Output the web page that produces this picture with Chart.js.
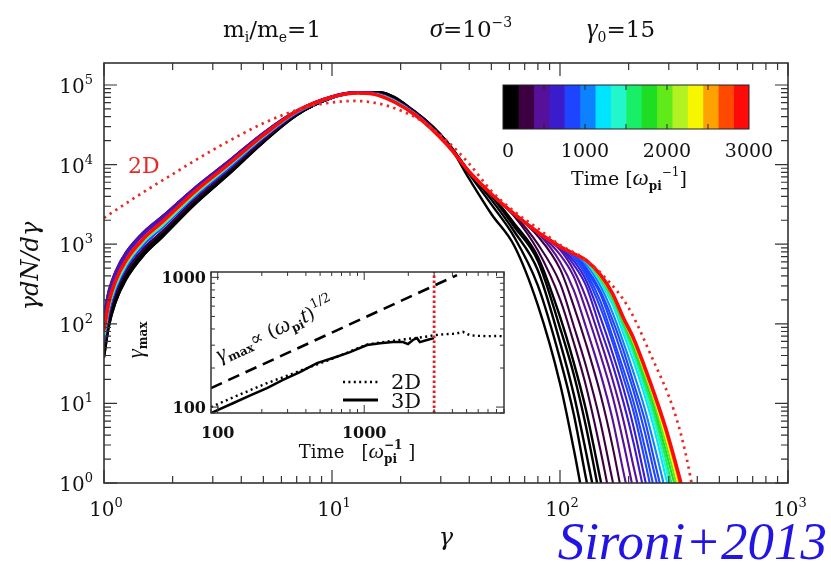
<!DOCTYPE html>
<html>
<head>
<meta charset="utf-8">
<script src="https://cdn.jsdelivr.net/npm/chart.js@4.4.1/dist/chart.umd.min.js"></script>
<style>
html, body { margin: 0; padding: 0; background: #fff; }
#wrap { position: relative; width: 831px; height: 565px; }
canvas { position: absolute; left: 0; top: 0; }
</style>
</head>
<body>
<div id="wrap">
<canvas id="main" width="831" height="565"></canvas>
<canvas id="inset" width="831" height="565"></canvas>
<canvas id="cbar" width="831" height="565"></canvas>
</div>
<script>
// ---- main panel data: log10(gamma dN/dgamma) ----
var gamLow = [1.0, 1.05, 1.12, 1.25, 1.5, 1.8, 2.5, 3.5, 5, 7, 10, 13, 16, 23, 32];
var gamTail = [40, 50, 63, 80, 100, 115, 130, 150, 170, 190, 210, 235, 260, 290, 320, 350];

// low energy part, the curves form a band (groups of curves)
var lowK0 = [1.58, 1.97, 2.26, 2.56, 2.87, 3.09, 3.50, 3.87, 4.28, 4.62, 4.84, 4.91, 4.91, 4.67, 4.28];
var lowK1 = [1.66, 2.04, 2.32, 2.61, 2.91, 3.13, 3.54, 3.90, 4.30, 4.63, 4.84, 4.91, 4.90, 4.66, 4.28];
var lowD  = [1.74, 2.11, 2.38, 2.66, 2.95, 3.16, 3.56, 3.92, 4.31, 4.64, 4.85, 4.91, 4.89, 4.66, 4.27];
var lowP1 = [2.12, 2.42, 2.65, 2.90, 3.16, 3.35, 3.71, 4.04, 4.40, 4.68, 4.86, 4.91, 4.89, 4.65, 4.26];
var lowP2 = [2.04, 2.36, 2.60, 2.86, 3.13, 3.32, 3.69, 4.02, 4.38, 4.67, 4.85, 4.91, 4.88, 4.64, 4.26];
var lowB1 = [1.80, 2.16, 2.43, 2.71, 3.00, 3.21, 3.60, 3.95, 4.34, 4.65, 4.84, 4.90, 4.88, 4.64, 4.25];
var lowB2 = [1.84, 2.20, 2.46, 2.74, 3.03, 3.23, 3.62, 3.97, 4.35, 4.66, 4.85, 4.90, 4.88, 4.64, 4.25];
var lowL  = [1.88, 2.23, 2.50, 2.77, 3.06, 3.26, 3.64, 3.99, 4.37, 4.67, 4.85, 4.90, 4.87, 4.63, 4.25];
var lowR  = [1.92, 2.27, 2.53, 2.80, 3.08, 3.28, 3.66, 4.00, 4.37, 4.67, 4.85, 4.90, 4.87, 4.63, 4.25];
var lowGroups = { k0: lowK0, k1: lowK1, d: lowD, p1: lowP1, p2: lowP2, b1: lowB1, b2: lowB2, l: lowL, r: lowR };

// time of each 3D spectrum [1/omega_pi] and its low-energy group
var times3D = [0, 40, 80, 120, 160, 200, 260, 330, 400, 460, 520, 600, 680, 760, 800, 860, 920, 1000,
               1150, 1350, 1550, 1800, 2050, 2300, 2600, 3000];
var lowGroupOf = ['k0','k0','k1','k1','k1','d','d','d','p1','p1','p1','p2','p2','b1','b1','b1','b1',
                  'b2','b2','b2','l','l','l','l','l','r'];

// high energy tails (log10), starting at gamTail[0]
var tails3D = [
  [3.82, 3.38, 2.98, 2.23, 1.25, 0.42, -0.40],
  [3.88, 3.50, 3.09, 2.48, 1.56, 0.86, 0.06, -0.80],
  [3.90, 3.56, 3.16, 2.67, 1.77, 1.11, 0.39, -0.50],
  [3.91, 3.61, 3.22, 2.79, 1.95, 1.36, 0.71, -0.20],
  [3.91, 3.62, 3.26, 2.84, 2.09, 1.51, 0.92, 0.06, -0.70],
  [3.91, 3.63, 3.35, 2.92, 2.31, 1.76, 1.22, 0.43, -0.35],
  [3.91, 3.63, 3.37, 3.00, 2.51, 1.97, 1.47, 0.78, 0.03, -0.60],
  [3.91, 3.63, 3.38, 3.10, 2.69, 2.22, 1.75, 1.13, 0.46, -0.25],
  [3.91, 3.63, 3.38, 3.14, 2.78, 2.42, 1.96, 1.39, 0.80, 0.13, -0.45],
  [3.91, 3.63, 3.38, 3.15, 2.87, 2.59, 2.17, 1.62, 1.09, 0.50, -0.10],
  [3.91, 3.63, 3.38, 3.15, 2.93, 2.67, 2.33, 1.80, 1.30, 0.78, 0.21, -0.40],
  [3.91, 3.63, 3.38, 3.15, 2.96, 2.74, 2.48, 1.95, 1.49, 1.01, 0.51, -0.15],
  [3.91, 3.63, 3.38, 3.15, 2.97, 2.79, 2.55, 2.09, 1.63, 1.18, 0.71, 0.07, -0.50],
  [3.91, 3.63, 3.38, 3.15, 2.97, 2.83, 2.61, 2.21, 1.77, 1.32, 0.90, 0.30, -0.30],
  [3.91, 3.63, 3.38, 3.15, 2.97, 2.86, 2.65, 2.29, 1.84, 1.42, 1.02, 0.46, -0.10],
  [3.91, 3.63, 3.38, 3.15, 2.97, 2.88, 2.68, 2.38, 1.96, 1.55, 1.16, 0.65, 0.11, -0.45],
  [3.91, 3.63, 3.38, 3.15, 2.97, 2.88, 2.71, 2.42, 2.05, 1.66, 1.26, 0.80, 0.27, -0.30],
  [3.91, 3.63, 3.38, 3.15, 2.97, 2.88, 2.75, 2.48, 2.14, 1.76, 1.39, 0.94, 0.46, -0.10],
  [3.91, 3.63, 3.38, 3.15, 2.97, 2.88, 2.78, 2.53, 2.24, 1.87, 1.53, 1.10, 0.66, 0.09, -0.40],
  [3.91, 3.63, 3.38, 3.15, 2.97, 2.88, 2.79, 2.55, 2.28, 1.93, 1.61, 1.18, 0.76, 0.21, -0.30],
  [3.91, 3.63, 3.38, 3.15, 2.97, 2.88, 2.80, 2.57, 2.31, 1.98, 1.67, 1.25, 0.85, 0.32, -0.20],
  [3.91, 3.63, 3.38, 3.15, 2.97, 2.88, 2.80, 2.58, 2.33, 2.02, 1.72, 1.32, 0.93, 0.42, -0.05],
  [3.91, 3.63, 3.38, 3.15, 2.97, 2.88, 2.80, 2.59, 2.35, 2.04, 1.76, 1.37, 1.00, 0.52, 0.05, -0.45],
  [3.91, 3.63, 3.38, 3.15, 2.97, 2.88, 2.80, 2.60, 2.36, 2.05, 1.78, 1.41, 1.05, 0.60, 0.15, -0.35],
  [3.91, 3.63, 3.38, 3.15, 2.97, 2.88, 2.80, 2.61, 2.37, 2.06, 1.80, 1.44, 1.08, 0.66, 0.22, -0.25],
  [3.91, 3.63, 3.38, 3.15, 2.97, 2.88, 2.80, 2.62, 2.38, 2.07, 1.82, 1.46, 1.11, 0.70, 0.27, -0.15]
];

// 2D run (red dotted)
var gam2D = [1, 1.26, 1.58, 2, 2.5, 3.16, 4, 5, 6.3, 7.9, 10, 12.6, 15.8, 20, 25, 31.6, 40, 50, 63, 79, 100, 126, 158, 200, 251, 316, 355, 398];
var log2D = [3.33, 3.52, 3.70, 3.88, 4.05, 4.22, 4.38, 4.52, 4.64, 4.73, 4.78, 4.80, 4.77, 4.68, 4.54, 4.31, 4.01, 3.67, 3.41, 3.21, 2.99, 2.83, 2.58, 2.20, 1.60, 0.91, 0.38, -0.35];

var xTickExp = [0, 1, 2, 3];
var yTickExp = [0, 1, 2, 3, 4, 5];

// ---- inset: gamma_max vs time ----
var insT3D = [90, 127, 170, 217, 279, 364, 476, 612, 800, 1045, 1282, 1572, 1840, 1990, 2150, 2290, 2400, 2680, 3000];
var insG3D = [90, 107, 124, 140, 162, 186, 218, 239, 265, 301, 311, 317, 317, 306, 329, 340, 317, 329, 340];
var insT2D = [90, 130, 217, 300, 400, 560, 800, 1045, 1300, 1600, 1900, 2300, 2700, 3000, 3600, 4200, 4720, 5270, 6000, 7000, 8000, 9000];
var insG2D = [100, 120, 153, 175, 198, 228, 268, 303, 316, 325, 333, 342, 350, 358, 365, 368, 380, 358, 354, 352, 353, 352];
var dashT = [90, 4300];
var dashG = [140, 1040];
var tEnd3D = 3000;
var insTicks = [100, 1000];

// ---- colour bar ----
var cbarColors = ['#000000','#3c0042','#56109a','#3a1ccc','#1e44ff','#0c82ff','#00e4ff','#22f7cc',
                  '#18ee66','#1ede24','#60ea1a','#b2f222','#f6f600','#ffa200','#ff4800','#ff0a0a'];
var cbarStart = [0, 187.5, 375, 562.5, 750, 937.5, 1125, 1312.5, 1500, 1687.5, 1875, 2062.5, 2250, 2437.5, 2625, 2812.5];
var cbarEnd   = [187.5, 375, 562.5, 750, 937.5, 1125, 1312.5, 1500, 1687.5, 1875, 2062.5, 2250, 2437.5, 2625, 2812.5, 3000];
var cbarTicks = [0, 1000, 2000, 3000];
var cbarMarks = [500, 1000, 1500, 2000, 2500];

var SERIF = '"DejaVu Serif", "Liberation Serif", serif';
var TIMES = '"Liberation Serif", "DejaVu Serif", serif';
function F(size, style) { return (style ? style + ' ' : '') + size + 'px ' + SERIF; }
function T(size, style) { return (style ? style + ' ' : '') + size + 'px ' + TIMES; }

function colorForTime(t) {
  return cbarColors[Math.min(15, Math.floor(t / 187.5))];
}

// text made of runs (for sub/superscripts)
function drawParts(ctx, parts, x, y, align) {
  var w = 0;
  parts.forEach(function (p) {
    ctx.font = p.f; p.w = ctx.measureText(p.t).width;
    if (p.t2) { ctx.font = p.f2; p.w = Math.max(p.w, ctx.measureText(p.t2).width); }
    w += p.w;
  });
  var sx = align === 'center' ? x - w / 2 : (align === 'right' ? x - w : x);
  ctx.textAlign = 'left'; ctx.textBaseline = 'alphabetic';
  parts.forEach(function (p) {
    ctx.font = p.f; ctx.fillText(p.t, sx, y + (p.dy || 0));
    if (p.t2) { ctx.font = p.f2; ctx.fillText(p.t2, sx, y + (p.dy2 || 0)); }
    sx += p.w;
  });
}

// IDL style ticks, inside the box on all four sides
function logTicks(ctx, scale, a, horiz, major, minor) {
  var k0 = Math.floor(Math.log10(scale.min)), k1 = Math.ceil(Math.log10(scale.max));
  for (var k = k0; k <= k1; k++) {
    for (var m = 1; m <= 9; m++) {
      var v = m * Math.pow(10, k);
      if (v < scale.min * 0.999 || v > scale.max * 1.001) continue;
      var p = scale.getPixelForValue(v);
      var len = m === 1 ? major : minor;
      ctx.beginPath();
      if (horiz) {
        ctx.moveTo(p, a.bottom); ctx.lineTo(p, a.bottom - len);
        ctx.moveTo(p, a.top); ctx.lineTo(p, a.top + len);
      } else {
        ctx.moveTo(a.left, p); ctx.lineTo(a.left + len, p);
        ctx.moveTo(a.right, p); ctx.lineTo(a.right - len, p);
      }
      ctx.stroke();
    }
  }
}

// ---- main chart ----
var mainSets = [];
times3D.forEach(function (t, i) {
  var low = lowGroups[lowGroupOf[i]];
  var pts = [];
  gamLow.forEach(function (g, k) { pts.push({ x: g, y: Math.pow(10, low[k]) }); });
  tails3D[i].forEach(function (v, k) { pts.push({ x: gamTail[k], y: Math.pow(10, v) }); });
  var last = i === times3D.length - 1;
  mainSets.push({
    data: pts,
    borderColor: colorForTime(t),
    borderWidth: last ? 3.6 : (t < 200 ? 2.4 : 2.1),
    order: times3D.length - i
  });
});
mainSets.push({
  data: gam2D.map(function (g, k) { return { x: g, y: Math.pow(10, log2D[k]) }; }),
  borderColor: '#e62a26',
  borderWidth: 2.7,
  borderDash: [2.4, 4.4],
  order: -1
});

var mainDeco = {
  id: 'mainDeco',
  afterDatasetsDraw: function (chart) {
    var ctx = chart.ctx, a = chart.chartArea, xs = chart.scales.x, ys = chart.scales.y;
    ctx.save();
    ctx.strokeStyle = '#333'; ctx.lineWidth = 1.6;
    ctx.strokeRect(a.left, a.top, a.right - a.left, a.bottom - a.top);
    ctx.lineWidth = 1.2;
    logTicks(ctx, xs, a, true, 13, 7);
    logTicks(ctx, ys, a, false, 13, 7);

    ctx.fillStyle = '#111';
    xTickExp.forEach(function (k) {
      drawParts(ctx, [{ t: '10', f: F(20) }, { t: String(k), f: F(13), dy: -9 }],
        xs.getPixelForValue(Math.pow(10, k)) + 2, a.bottom + 33, 'center');
    });
    yTickExp.forEach(function (k) {
      drawParts(ctx, [{ t: '10', f: F(20) }, { t: String(k), f: F(13), dy: -9 }],
        a.left - 11, ys.getPixelForValue(Math.pow(10, k)) + 8, 'right');
    });

    // axis titles
    drawParts(ctx, [{ t: 'γ', f: F(24, 'italic') }], (a.left + a.right) / 2, 545, 'center');
    ctx.save();
    ctx.translate(38, 266); ctx.rotate(-Math.PI / 2);
    drawParts(ctx, [{ t: 'γdN/dγ', f: F(24, 'italic') }], 0, 0, 'center');
    ctx.restore();

    // header
    drawParts(ctx, [{ t: 'm', f: F(23) }, { t: 'i', f: F(14), dy: 5 }, { t: '/m', f: F(23) },
      { t: 'e', f: F(14), dy: 5 }, { t: '=1', f: F(23) }], 272, 37, 'center');
    drawParts(ctx, [{ t: 'σ', f: T(27, 'italic') }, { t: '=10', f: F(23) },
      { t: '−3', f: F(14), dy: -10 }], 471, 37, 'center');
    drawParts(ctx, [{ t: 'γ', f: T(27, 'italic') }, { t: '0', f: F(14), dy: 5 },
      { t: '=15', f: F(23) }], 621, 37, 'center');

    ctx.fillStyle = '#e62a26';
    drawParts(ctx, [{ t: '2D', f: F(22) }], 128, 173, 'left');

    ctx.fillStyle = '#2214e2';
    drawParts(ctx, [{ t: 'Sironi+2013', f: T(53, 'italic') }], 827, 559, 'right');
    ctx.restore();
  }
};

new Chart(document.getElementById('main'), {
  type: 'line',
  data: { datasets: mainSets },
  options: {
    responsive: false, animation: false, devicePixelRatio: 1,
    layout: { padding: { left: 104, right: 43, top: 63, bottom: 82 } },
    plugins: { legend: { display: false }, tooltip: { enabled: false } },
    elements: {
      point: { radius: 0 },
      line: { cubicInterpolationMode: 'monotone', capBezierPoints: false, borderCapStyle: 'butt', fill: false }
    },
    datasets: { line: { clip: 0 } },
    scales: {
      x: { type: 'logarithmic', min: 1, max: 1000, display: false },
      y: { type: 'logarithmic', min: 1, max: 1.89e5, display: false }
    }
  },
  plugins: [mainDeco]
});

// ---- inset chart ----
var insetDeco = {
  id: 'insetDeco',
  beforeDatasetsDraw: function (chart) {
    var ctx = chart.ctx, a = chart.chartArea;
    ctx.save(); ctx.fillStyle = '#fff';
    ctx.fillRect(a.left, a.top, a.right - a.left, a.bottom - a.top);
    ctx.restore();
  },
  afterDatasetsDraw: function (chart) {
    var ctx = chart.ctx, a = chart.chartArea, xs = chart.scales.x, ys = chart.scales.y;
    ctx.save();
    ctx.strokeStyle = '#333'; ctx.lineWidth = 1.5;
    ctx.strokeRect(a.left, a.top, a.right - a.left, a.bottom - a.top);
    ctx.lineWidth = 1;
    logTicks(ctx, xs, a, true, 8, 4);
    logTicks(ctx, ys, a, false, 8, 4);

    ctx.fillStyle = '#111';
    insTicks.forEach(function (v) {
      drawParts(ctx, [{ t: String(v), f: F(16, 'bold') }], xs.getPixelForValue(v), a.bottom + 25, 'center');
      drawParts(ctx, [{ t: String(v), f: F(16, 'bold') }], a.left - 5, ys.getPixelForValue(v) + 6, 'right');
    });
    drawParts(ctx, [{ t: 'Time   [', f: F(18) }, { t: 'ω', f: T(22, 'italic') },
      { t: '−1', f: F(12, 'bold'), dy: -9, t2: 'pi', f2: F(12, 'bold'), dy2: 5 }, { t: ' ]', f: F(18) }],
      357, 458, 'center');

    ctx.save();
    ctx.translate(143, 340); ctx.rotate(-Math.PI / 2);
    drawParts(ctx, [{ t: 'γ', f: T(23, 'italic') }, { t: 'max', f: F(12, 'bold'), dy: 4 }], 0, 0, 'center');
    ctx.restore();

    // annotation along the dashed line
    var x1 = xs.getPixelForValue(dashT[0]), y1 = ys.getPixelForValue(dashG[0]);
    var x2 = xs.getPixelForValue(dashT[1]), y2 = ys.getPixelForValue(dashG[1]);
    ctx.save();
    ctx.translate(220, 362); ctx.rotate(Math.atan2(y2 - y1, x2 - x1));
    drawParts(ctx, [{ t: 'γ', f: T(23, 'italic') }, { t: 'max', f: F(12, 'bold'), dy: 4 },
      { t: '∝ (', f: F(19) }, { t: 'ω', f: T(23, 'italic') }, { t: 'pi', f: F(12, 'bold'), dy: 4 },
      { t: 't', f: T(23, 'italic') }, { t: ')', f: F(19) }, { t: '1/2', f: F(13), dy: -10 }], 0, 0, 'left');
    ctx.restore();

    // legend
    ctx.strokeStyle = '#000';
    ctx.lineWidth = 2.4; ctx.setLineDash([2, 3.4]);
    ctx.beginPath(); ctx.moveTo(343, 382); ctx.lineTo(378, 382); ctx.stroke();
    ctx.setLineDash([]); ctx.lineWidth = 3;
    ctx.beginPath(); ctx.moveTo(343, 400); ctx.lineTo(378, 400); ctx.stroke();
    drawParts(ctx, [{ t: '2D', f: F(21) }], 391, 389, 'left');
    drawParts(ctx, [{ t: '3D', f: F(21) }], 391, 408, 'left');
    ctx.restore();
  }
};

new Chart(document.getElementById('inset'), {
  type: 'line',
  data: {
    datasets: [
      { data: dashT.map(function (t, k) { return { x: t, y: dashG[k] }; }),
        borderColor: '#000', borderWidth: 2.6, borderDash: [12, 7], order: 3 },
      { data: insT3D.map(function (t, k) { return { x: t, y: insG3D[k] }; }),
        borderColor: '#000', borderWidth: 2.5, order: 2 },
      { data: insT2D.map(function (t, k) { return { x: t, y: insG2D[k] }; }),
        borderColor: '#000', borderWidth: 2.4, borderDash: [2, 3.4], order: 1 },
      { data: [{ x: tEnd3D, y: 90 }, { x: tEnd3D, y: 1100 }],
        borderColor: '#e02020', borderWidth: 2.8, borderDash: [2.4, 2.6], order: 0 }
    ]
  },
  options: {
    responsive: false, animation: false, devicePixelRatio: 1,
    layout: { padding: { left: 211, right: 327, top: 272, bottom: 152 } },
    plugins: { legend: { display: false }, tooltip: { enabled: false } },
    elements: { point: { radius: 0 }, line: { tension: 0, fill: false } },
    datasets: { line: { clip: 0 } },
    scales: {
      x: { type: 'logarithmic', min: 90, max: 9000, display: false },
      y: { type: 'logarithmic', min: 90, max: 1100, display: false }
    }
  },
  plugins: [insetDeco]
});

// ---- colour bar ----
var cbarDeco = {
  id: 'cbarDeco',
  afterDatasetsDraw: function (chart) {
    var ctx = chart.ctx, a = chart.chartArea, xs = chart.scales.x;
    ctx.save();
    ctx.strokeStyle = '#222'; ctx.lineWidth = 1;
    ctx.strokeRect(a.left, a.top, a.right - a.left, a.bottom - a.top);
    cbarMarks.forEach(function (v) {
      var p = xs.getPixelForValue(v);
      ctx.beginPath();
      ctx.moveTo(p, a.top); ctx.lineTo(p, a.top + 5);
      ctx.moveTo(p, a.bottom); ctx.lineTo(p, a.bottom - 5);
      ctx.stroke();
    });
    ctx.fillStyle = '#111';
    cbarTicks.forEach(function (v) {
      drawParts(ctx, [{ t: String(v), f: F(19) }], xs.getPixelForValue(v) + (v === 0 ? 5 : 0), 157, 'center');
    });
    drawParts(ctx, [{ t: 'Time [', f: F(19) }, { t: 'ω', f: T(23, 'italic') },
      { t: 'pi', f: F(12, 'bold'), dy: 5 }, { t: '−1', f: F(12), dy: -9 }, { t: ']', f: F(19) }],
      629, 185, 'center');
    ctx.restore();
  }
};

new Chart(document.getElementById('cbar'), {
  type: 'bar',
  data: {
    labels: ['t'],
    datasets: cbarColors.map(function (c, i) {
      return { data: [[cbarStart[i], cbarEnd[i]]], backgroundColor: c, borderWidth: 0,
               barPercentage: 1, categoryPercentage: 1, grouped: false };
    })
  },
  options: {
    indexAxis: 'y',
    responsive: false, animation: false, devicePixelRatio: 1,
    layout: { padding: { left: 503, right: 82, top: 85, bottom: 436 } },
    plugins: { legend: { display: false }, tooltip: { enabled: false } },
    scales: {
      x: { type: 'linear', min: 0, max: 3000, display: false },
      y: { display: false }
    }
  },
  plugins: [cbarDeco]
});
</script>
</body>
</html>
